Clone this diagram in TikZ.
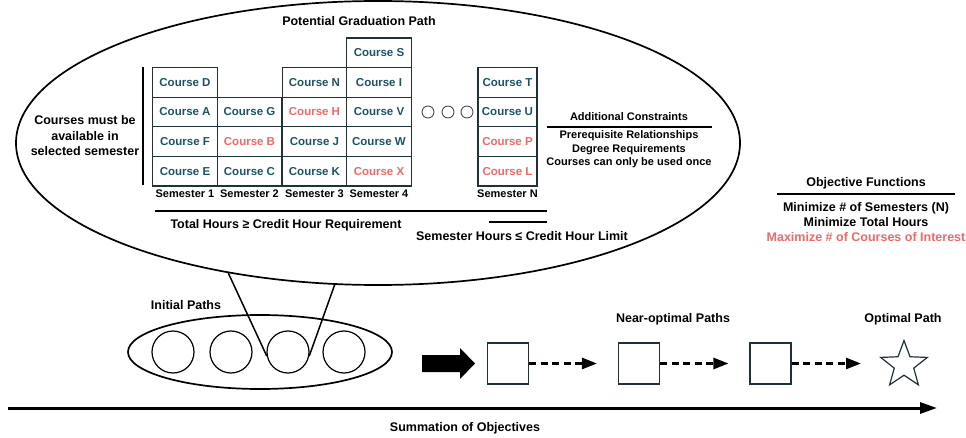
\documentclass[tikz,border=0pt]{standalone}
\usepackage{fontspec}
\setmainfont{Liberation Sans}
\usetikzlibrary{shapes.geometric,arrows.meta}
\definecolor{courseteal}{RGB}{28,84,100}
\definecolor{coursered}{RGB}{240,104,104}
\definecolor{cellline}{RGB}{30,50,56}
\definecolor{dotline}{RGB}{70,80,86}
\begin{document}
\begin{tikzpicture}[x=1pt,y=-1pt,
  lbl/.style={font=\bfseries\fontsize{12.5}{15}\selectfont, inner sep=0pt, align=center},
  smalllbl/.style={font=\bfseries\fontsize{11}{13.5}\selectfont, inner sep=0pt, align=center},
  semlbl/.style={font=\bfseries\fontsize{11}{13}\selectfont, inner sep=0pt},
  cell/.style={draw=cellline, line width=1.1pt, minimum width=64.5pt, minimum height=29.6pt,
               inner sep=0pt, font=\bfseries\fontsize{11.5}{13}\selectfont, text=courseteal},
  ncell/.style={cell, minimum width=59pt},
  hot/.style={text=coursered},
  rulebar/.style={line width=1.4pt},
  outline/.style={draw, line width=1.7pt},
  pathcircle/.style={circle, draw, line width=1.2pt, minimum size=42pt, inner sep=0pt},
  pathbox/.style={draw=cellline, line width=1.2pt, minimum size=41pt, inner sep=0pt},
  gapdot/.style={circle, draw=dotline, line width=0.9pt, minimum size=12pt, inner sep=0pt},
  dasharrow/.style={line width=2.6pt, dash pattern=on 7pt off 4.5pt, -{Triangle[length=15pt,width=11pt]}},
]
\useasboundingbox (0,0) rectangle (966,438);
\fill[white] (0,0) rectangle (966,438);

% ---- enlarged view of one graduation path ----
\node[ellipse, outline, minimum width=724pt, minimum height=284pt, inner sep=0pt] (big) at (378,143) {};
\node[lbl] (title) at (359,21) {Potential Graduation Path};

\node[lbl, font=\bfseries\fontsize{12.5}{15.5}\selectfont] (avail) at (85,136) {Courses must be\\available in\\selected semester};
\draw[line width=2pt] (143,67) -- (143,185);

% semester columns
\node[cell] (c1d) at (185,82.4) {Course D};
\node[cell] (c1a) at (185,112) {Course A};
\node[cell] (c1f) at (185,141.6) {Course F};
\node[cell] (c1e) at (185,171.2) {Course E};

\node[cell] (c2g) at (249.5,112) {Course G};
\node[cell,hot] (c2b) at (249.5,141.6) {Course B};
\node[cell] (c2c) at (249.5,171.2) {Course C};

\node[cell] (c3n) at (314.5,82.4) {Course N};
\node[cell,hot] (c3h) at (314.5,112) {Course H};
\node[cell] (c3j) at (314.5,141.6) {Course J};
\node[cell] (c3k) at (314.5,171.2) {Course K};

\node[cell] (c4s) at (379,52.8) {Course S};
\node[cell] (c4i) at (379,82.4) {Course I};
\node[cell] (c4v) at (379,112) {Course V};
\node[cell] (c4w) at (379,141.6) {Course W};
\node[cell,hot] (c4x) at (379,171.2) {Course X};

\node[ncell] (cnt) at (507.5,82.4) {Course T};
\node[ncell] (cnu) at (507.5,112) {Course U};
\node[ncell,hot] (cnp) at (507.5,141.6) {Course P};
\node[ncell,hot] (cnl) at (507.5,171.2) {Course L};

\node[semlbl] (s1) at (185,194) {Semester 1};
\node[semlbl] (s2) at (249.5,194) {Semester 2};
\node[semlbl] (s3) at (314.5,194) {Semester 3};
\node[semlbl] (s4) at (379,194) {Semester 4};
\node[semlbl] (sn) at (507.5,194) {Semester N};

\node[gapdot] (g1) at (428,112) {};
\node[gapdot] (g2) at (448,112) {};
\node[gapdot] (g3) at (467,112) {};

% credit hour constraints
\draw[rulebar] (155,211) -- (547,211);
\node[lbl] (total) at (286,225) {Total Hours ≥ Credit Hour Requirement};
\draw[rulebar] (489,222) -- (547,222);
\node[lbl] (semhours) at (522,236) {Semester Hours ≤ Credit Hour Limit};

% additional constraints
\node[smalllbl] (addc) at (629,117) {Additional Constraints};
\draw[rulebar] (547,127) -- (712,127);
\node[smalllbl] (addlist) at (629,149.5) {Prerequisite Relationships\\Degree Requirements\\Courses can only be used once};

% objective functions
\node[lbl] (objt) at (866,183) {Objective Functions};
\draw[rulebar] (777,194) -- (955,194);
\node[lbl] (objlist) at (866,222) {Minimize \# of Semesters (N)\\Minimize Total Hours\\\textcolor{coursered}{Maximize \# of Courses of Interest}};

% ---- population of initial paths ----
\node[lbl] (initl) at (186,305) {Initial Paths};
\node[ellipse, outline, minimum width=264pt, minimum height=74pt, inner sep=0pt] (pop) at (260,352) {};
\node[pathcircle] (p1) at (173,352) {};
\node[pathcircle] (p2) at (231,352) {};
\node[pathcircle] (p3) at (288,352) {};
\node[pathcircle] (p4) at (344,352) {};
\draw[line width=1.5pt] (big.221.7) -- (p3.191);
\draw[line width=1.5pt] (big.253) -- (p3.349);

% ---- search towards the optimum ----
\fill (422,355) -- (460,355) -- (460,348) -- (475,363.5) -- (460,379) -- (460,372) -- (422,372) -- cycle;

\node[pathbox] (b1) at (508,363.5) {};
\node[pathbox] (b2) at (639,363.5) {};
\node[pathbox] (b3) at (770.5,363.5) {};
\node[star, star points=5, star point ratio=2.4, draw=cellline, line width=1.2pt,
      minimum size=49pt, inner sep=0pt] (opt) at (904,365) {};

\draw[dasharrow] (b1.east) -- ([xshift=-21pt]b2.west);
\draw[dasharrow] (b2.east) -- ([xshift=-21pt]b3.west);
\draw[dasharrow] (b3.east) -- (861,363.5);

\node[lbl] (nearl) at (673,319) {Near-optimal Paths};
\node[lbl] (optl) at (903,319) {Optimal Path};

% ---- objective axis ----
\coordinate (axs) at (8,408);
\coordinate (axe) at (937,408);
\draw[line width=3pt, -{Triangle[length=17pt,width=11pt]}] (axs) -- (axe);
\node[lbl] (suml) at (465,428) {Summation of Objectives};
\end{tikzpicture}
\end{document}
